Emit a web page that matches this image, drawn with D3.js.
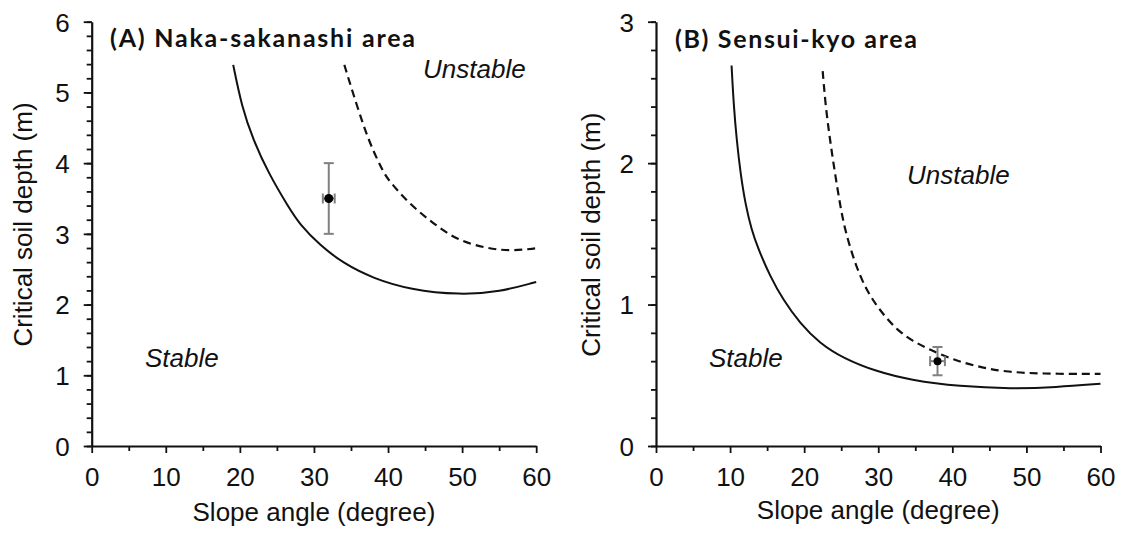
<!DOCTYPE html>
<html>
<head>
<meta charset="utf-8">
<script src="https://cdn.jsdelivr.net/npm/d3@7"></script>
<style>
  body { margin: 0; background: #fff; }
  svg { display: block; }
  .tick text { font-family: "Liberation Sans", Arial, sans-serif; font-size: 26px; fill: #111; }
  .tick line { stroke: #111; stroke-width: 1.8; }
  .domain { stroke: #111; stroke-width: 2.2; }
  .lbl { font-family: "Liberation Sans", Arial, sans-serif; font-size: 26px; fill: #111; }
  .zone { font-family: "Liberation Sans", Arial, sans-serif; font-size: 26px; font-style: italic; fill: #111; }
  .title { font-family: Lato, "Open Sans", sans-serif; font-size: 25px; font-weight: bold; fill: #111; }
</style>
</head>
<body>
<svg id="chart" width="1121" height="533"></svg>
<script>
// slope angle (degree) -> critical soil depth (m)
const solidA = [[19.1,5.39],[20.25,4.80],[21.8,4.33],[23.85,3.86],[26.55,3.38],[28.1,3.13],[30.8,2.84],
  [34.0,2.58],[38.0,2.37],[43.0,2.21],[49.7,2.135],[55.1,2.18],[60,2.32]];
const dashedA = [[34.1,5.39],[35.0,5.08],[36.7,4.52],[38.0,4.17],[39.4,3.87],[40.05,3.76],[43.0,3.41],
  [46.1,3.15],[49.3,2.91],[53.3,2.795],[56.5,2.757],[60,2.795]];
const pointA = { x: 32, y: 3.5, xErr: 0.8, yErr: 0.5 };

const solidB = [[10.2,2.69],[10.5,2.40],[10.9,2.16],[11.4,1.93],[12.1,1.70],[12.9,1.53],[13.75,1.40],
  [15.4,1.20],[17.2,1.03],[19.4,0.87],[22.1,0.726],[25.3,0.62],[29.8,0.526],[34.3,0.467],[41.0,0.42],
  [48,0.405],[54,0.415],[60,0.44]];
const dashedB = [[22.5,2.65],[22.9,2.40],[23.5,2.16],[24.15,1.93],[24.9,1.69],[25.5,1.53],[26.85,1.29],
  [28.4,1.10],[30.2,0.96],[32.5,0.82],[34.7,0.74],[37.0,0.68],[40.1,0.61],[43.5,0.56],[47,0.525],
  [52,0.51],[60,0.51]];
const pointB = { x: 38, y: 0.6, xErr: 1.0, yErr: 0.1 };

const xTicks = [0, 10, 20, 30, 40, 50, 60];
const xMinor = [5, 15, 25, 35, 45, 55];
const yTicksA = [0, 1, 2, 3, 4, 5, 6];
const yTicksB = [0, 1, 2, 3];

const svg = d3.select("#chart");
const plotBottom = 446, plotTop = 21.7, plotW = 444.5;

function drawPanel(o) {
  const x = d3.scaleLinear().domain([0, 60]).range([o.left, o.left + plotW]);
  const y = d3.scaleLinear().domain([0, o.yMax]).range([plotBottom, plotTop]);
  const g = svg.append("g");

  // minor ticks
  g.append("g").attr("transform", `translate(0,${plotBottom})`)
    .call(d3.axisBottom(x).tickValues(xMinor).tickSize(5).tickFormat(""))
    .call(a => a.select(".domain").remove());
  g.append("g").attr("transform", `translate(${o.left},0)`)
    .call(d3.axisLeft(y).tickValues(d3.range(0, o.yMax + 1e-9, 0.2)).tickSize(5).tickFormat(""))
    .call(a => a.select(".domain").remove());

  // major ticks + axis lines
  g.append("g").attr("transform", `translate(0,${plotBottom})`)
    .call(d3.axisBottom(x).tickValues(xTicks).tickSize(7).tickSizeOuter(0).tickPadding(15).tickFormat(d3.format("d")));
  g.append("g").attr("transform", `translate(${o.left},0)`)
    .call(d3.axisLeft(y).tickValues(o.yTicks).tickSize(8).tickSizeOuter(0).tickPadding(14).tickFormat(d3.format("d")))
    .call(a => a.selectAll("text").attr("dy", "0.36em"));

  const line = d3.line().x(d => x(d[0])).y(d => y(d[1])).curve(d3.curveBasis);
  g.append("path").attr("d", line(o.solid))
    .attr("fill", "none").attr("stroke", "#111").attr("stroke-width", 2);
  g.append("path").attr("d", line(o.dashed))
    .attr("fill", "none").attr("stroke", "#111").attr("stroke-width", 2.2)
    .attr("stroke-dasharray", "8,5");

  // observed point with error bars
  const p = o.point, eb = g.append("g").attr("stroke", "#808080").attr("stroke-width", 2);
  eb.append("line").attr("x1", x(p.x)).attr("x2", x(p.x)).attr("y1", y(p.y - p.yErr)).attr("y2", y(p.y + p.yErr));
  [p.y - p.yErr, p.y + p.yErr].forEach(v => eb.append("line")
    .attr("x1", x(p.x) - 5).attr("x2", x(p.x) + 5).attr("y1", y(v)).attr("y2", y(v)));
  eb.append("line").attr("x1", x(p.x - p.xErr)).attr("x2", x(p.x + p.xErr)).attr("y1", y(p.y)).attr("y2", y(p.y));
  [p.x - p.xErr, p.x + p.xErr].forEach(v => eb.append("line")
    .attr("x1", x(v)).attr("x2", x(v)).attr("y1", y(p.y) - 5).attr("y2", y(p.y) + 5));
  g.append("circle").attr("cx", x(p.x)).attr("cy", y(p.y)).attr("r", o.r).attr("fill", "#000");

  // texts
  g.append("text").attr("class", "title").attr("x", o.title[1]).attr("y", o.title[2])
    .attr("textLength", o.title[3]).text(o.title[0]);
  g.append("text").attr("class", "lbl").attr("text-anchor", "middle")
    .attr("x", o.left + plotW / 2).attr("y", o.xLabY).text("Slope angle (degree)");
  g.append("text").attr("class", "lbl").attr("text-anchor", "middle")
    .attr("transform", `translate(${o.yLab[0]},${o.yLab[1]}) rotate(-90)`).text("Critical soil depth (m)");
  g.append("text").attr("class", "zone").attr("x", o.stable[0]).attr("y", o.stable[1]).text("Stable");
  g.append("text").attr("class", "zone").attr("x", o.unstable[0]).attr("y", o.unstable[1]).text("Unstable");
}

drawPanel({
  left: 91.7, yMax: 6, yTicks: yTicksA, solid: solidA, dashed: dashedA, point: pointA, r: 4.5,
  title: ["(A) Naka-sakanashi area", 110, 47, 305], xLabY: 521,
  yLab: [32, 224.5], stable: [145, 367], unstable: [423, 78]
});
drawPanel({
  left: 656, yMax: 3, yTicks: yTicksB, solid: solidB, dashed: dashedB, point: pointB, r: 4,
  title: ["(B) Sensui-kyo area", 675, 48, 242], xLabY: 519,
  yLab: [599.5, 234.7], stable: [709, 367], unstable: [907, 184]
});
</script>
</body>
</html>
